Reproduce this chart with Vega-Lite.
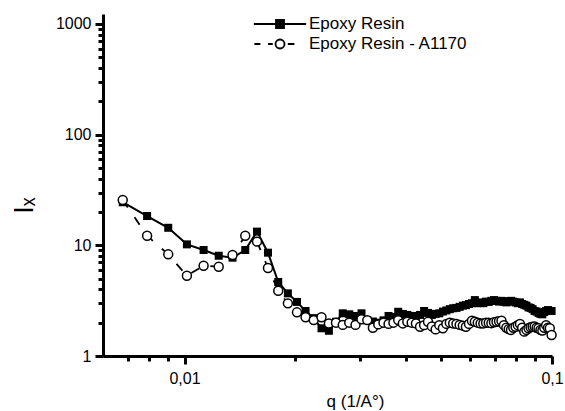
{
  "$schema": "https://vega.github.io/schema/vega-lite/v6.json",
  "width": 449,
  "height": 342,
  "autosize": "none",
  "padding": {"left": 103, "top": 14, "right": 13, "bottom": 55},
  "background": "white",
  "config": {"view": {"stroke": null}, "font": "Liberation Sans"},
  "data": {"values": [
    {"q":0.00679,"I":24.5,"s":"Epoxy Resin"},{"q":0.00791,"I":18.4,"s":"Epoxy Resin"},{"q":0.00903,"I":14.4,"s":"Epoxy Resin"},{"q":0.01015,"I":10.2,"s":"Epoxy Resin"},{"q":0.01127,"I":9.07,"s":"Epoxy Resin"},{"q":0.01239,"I":8.05,"s":"Epoxy Resin"},{"q":0.01351,"I":7.73,"s":"Epoxy Resin"},{"q":0.01463,"I":9.07,"s":"Epoxy Resin"},{"q":0.01575,"I":13.3,"s":"Epoxy Resin"},{"q":0.01687,"I":8.58,"s":"Epoxy Resin"},
    {"q":0.01799,"I":4.66,"s":"Epoxy Resin"},{"q":0.01911,"I":3.68,"s":"Epoxy Resin"},{"q":0.02023,"I":3.08,"s":"Epoxy Resin"},{"q":0.02135,"I":2.55,"s":"Epoxy Resin"},{"q":0.02247,"I":2.2,"s":"Epoxy Resin"},{"q":0.02359,"I":1.78,"s":"Epoxy Resin"},{"q":0.02471,"I":1.69,"s":"Epoxy Resin"},{"q":0.02583,"I":2.04,"s":"Epoxy Resin"},{"q":0.02695,"I":2.43,"s":"Epoxy Resin"},{"q":0.02807,"I":2.38,"s":"Epoxy Resin"},
    {"q":0.02919,"I":2.3,"s":"Epoxy Resin"},{"q":0.03031,"I":2.43,"s":"Epoxy Resin"},{"q":0.03143,"I":2.1,"s":"Epoxy Resin"},{"q":0.03255,"I":2.05,"s":"Epoxy Resin"},{"q":0.03367,"I":2.0,"s":"Epoxy Resin"},{"q":0.03479,"I":2.1,"s":"Epoxy Resin"},{"q":0.03591,"I":2.3,"s":"Epoxy Resin"},{"q":0.03703,"I":2.25,"s":"Epoxy Resin"},{"q":0.03815,"I":2.51,"s":"Epoxy Resin"},{"q":0.03927,"I":2.4,"s":"Epoxy Resin"},
    {"q":0.04039,"I":2.35,"s":"Epoxy Resin"},{"q":0.04151,"I":2.3,"s":"Epoxy Resin"},{"q":0.04263,"I":2.3,"s":"Epoxy Resin"},{"q":0.04375,"I":2.35,"s":"Epoxy Resin"},{"q":0.04487,"I":2.55,"s":"Epoxy Resin"},{"q":0.04599,"I":2.45,"s":"Epoxy Resin"},{"q":0.04711,"I":2.35,"s":"Epoxy Resin"},{"q":0.04823,"I":2.4,"s":"Epoxy Resin"},{"q":0.04935,"I":2.43,"s":"Epoxy Resin"},{"q":0.05047,"I":2.52,"s":"Epoxy Resin"},
    {"q":0.05159,"I":2.58,"s":"Epoxy Resin"},{"q":0.05271,"I":2.65,"s":"Epoxy Resin"},{"q":0.05383,"I":2.7,"s":"Epoxy Resin"},{"q":0.05495,"I":2.72,"s":"Epoxy Resin"},{"q":0.05607,"I":2.78,"s":"Epoxy Resin"},{"q":0.05719,"I":2.85,"s":"Epoxy Resin"},{"q":0.05831,"I":2.88,"s":"Epoxy Resin"},{"q":0.05943,"I":2.95,"s":"Epoxy Resin"},{"q":0.06055,"I":3.0,"s":"Epoxy Resin"},{"q":0.06167,"I":3.2,"s":"Epoxy Resin"},
    {"q":0.06279,"I":3.0,"s":"Epoxy Resin"},{"q":0.06391,"I":3.05,"s":"Epoxy Resin"},{"q":0.06503,"I":3.0,"s":"Epoxy Resin"},{"q":0.06615,"I":3.1,"s":"Epoxy Resin"},{"q":0.06727,"I":3.08,"s":"Epoxy Resin"},{"q":0.06839,"I":3.15,"s":"Epoxy Resin"},{"q":0.06951,"I":3.2,"s":"Epoxy Resin"},{"q":0.07063,"I":3.15,"s":"Epoxy Resin"},{"q":0.07175,"I":3.1,"s":"Epoxy Resin"},{"q":0.07287,"I":3.15,"s":"Epoxy Resin"},
    {"q":0.07399,"I":3.1,"s":"Epoxy Resin"},{"q":0.07511,"I":3.05,"s":"Epoxy Resin"},{"q":0.07623,"I":3.12,"s":"Epoxy Resin"},{"q":0.07735,"I":3.15,"s":"Epoxy Resin"},{"q":0.07847,"I":3.1,"s":"Epoxy Resin"},{"q":0.07959,"I":3.05,"s":"Epoxy Resin"},{"q":0.08071,"I":3.0,"s":"Epoxy Resin"},{"q":0.08183,"I":3.05,"s":"Epoxy Resin"},{"q":0.08295,"I":2.95,"s":"Epoxy Resin"},{"q":0.08407,"I":2.9,"s":"Epoxy Resin"},
    {"q":0.08519,"I":2.85,"s":"Epoxy Resin"},{"q":0.08631,"I":2.75,"s":"Epoxy Resin"},{"q":0.08743,"I":2.72,"s":"Epoxy Resin"},{"q":0.08855,"I":2.65,"s":"Epoxy Resin"},{"q":0.08967,"I":2.55,"s":"Epoxy Resin"},{"q":0.09079,"I":2.52,"s":"Epoxy Resin"},{"q":0.09191,"I":2.45,"s":"Epoxy Resin"},{"q":0.09303,"I":2.4,"s":"Epoxy Resin"},{"q":0.09415,"I":2.38,"s":"Epoxy Resin"},{"q":0.09527,"I":2.5,"s":"Epoxy Resin"},
    {"q":0.09639,"I":2.55,"s":"Epoxy Resin"},{"q":0.09751,"I":2.6,"s":"Epoxy Resin"},{"q":0.09863,"I":2.55,"s":"Epoxy Resin"},{"q":0.09975,"I":2.55,"s":"Epoxy Resin"},
    {"q":0.00679,"I":25.7,"s":"Epoxy Resin - A1170"},{"q":0.00791,"I":12.2,"s":"Epoxy Resin - A1170"},{"q":0.00903,"I":8.29,"s":"Epoxy Resin - A1170"},{"q":0.01015,"I":5.31,"s":"Epoxy Resin - A1170"},{"q":0.01127,"I":6.54,"s":"Epoxy Resin - A1170"},{"q":0.01239,"I":6.41,"s":"Epoxy Resin - A1170"},{"q":0.01351,"I":8.17,"s":"Epoxy Resin - A1170"},{"q":0.01463,"I":12.2,"s":"Epoxy Resin - A1170"},{"q":0.01575,"I":10.8,"s":"Epoxy Resin - A1170"},{"q":0.01687,"I":6.24,"s":"Epoxy Resin - A1170"},
    {"q":0.01799,"I":3.89,"s":"Epoxy Resin - A1170"},{"q":0.01911,"I":2.99,"s":"Epoxy Resin - A1170"},{"q":0.02023,"I":2.48,"s":"Epoxy Resin - A1170"},{"q":0.02135,"I":2.24,"s":"Epoxy Resin - A1170"},{"q":0.02247,"I":2.11,"s":"Epoxy Resin - A1170"},{"q":0.02359,"I":2.24,"s":"Epoxy Resin - A1170"},{"q":0.02471,"I":1.97,"s":"Epoxy Resin - A1170"},{"q":0.02583,"I":2.0,"s":"Epoxy Resin - A1170"},{"q":0.02695,"I":1.91,"s":"Epoxy Resin - A1170"},{"q":0.02807,"I":2.0,"s":"Epoxy Resin - A1170"},
    {"q":0.02919,"I":1.91,"s":"Epoxy Resin - A1170"},{"q":0.03031,"I":2.15,"s":"Epoxy Resin - A1170"},{"q":0.03143,"I":2.11,"s":"Epoxy Resin - A1170"},{"q":0.03255,"I":1.8,"s":"Epoxy Resin - A1170"},{"q":0.03367,"I":1.93,"s":"Epoxy Resin - A1170"},{"q":0.03479,"I":2.0,"s":"Epoxy Resin - A1170"},{"q":0.03591,"I":1.95,"s":"Epoxy Resin - A1170"},{"q":0.03703,"I":2.0,"s":"Epoxy Resin - A1170"},{"q":0.03815,"I":2.11,"s":"Epoxy Resin - A1170"},{"q":0.03927,"I":1.97,"s":"Epoxy Resin - A1170"},
    {"q":0.04039,"I":2.04,"s":"Epoxy Resin - A1170"},{"q":0.04151,"I":2.0,"s":"Epoxy Resin - A1170"},{"q":0.04263,"I":1.97,"s":"Epoxy Resin - A1170"},{"q":0.04375,"I":1.84,"s":"Epoxy Resin - A1170"},{"q":0.04487,"I":1.9,"s":"Epoxy Resin - A1170"},{"q":0.04599,"I":2.04,"s":"Epoxy Resin - A1170"},{"q":0.04711,"I":1.85,"s":"Epoxy Resin - A1170"},{"q":0.04823,"I":1.74,"s":"Epoxy Resin - A1170"},{"q":0.04935,"I":1.9,"s":"Epoxy Resin - A1170"},{"q":0.05047,"I":1.78,"s":"Epoxy Resin - A1170"},
    {"q":0.05159,"I":1.95,"s":"Epoxy Resin - A1170"},{"q":0.05271,"I":2.0,"s":"Epoxy Resin - A1170"},{"q":0.05383,"I":1.97,"s":"Epoxy Resin - A1170"},{"q":0.05495,"I":1.95,"s":"Epoxy Resin - A1170"},{"q":0.05607,"I":1.91,"s":"Epoxy Resin - A1170"},{"q":0.05719,"I":1.88,"s":"Epoxy Resin - A1170"},{"q":0.05831,"I":1.84,"s":"Epoxy Resin - A1170"},{"q":0.05943,"I":1.95,"s":"Epoxy Resin - A1170"},{"q":0.06055,"I":2.08,"s":"Epoxy Resin - A1170"},{"q":0.06167,"I":2.04,"s":"Epoxy Resin - A1170"},
    {"q":0.06279,"I":2.0,"s":"Epoxy Resin - A1170"},{"q":0.06391,"I":1.97,"s":"Epoxy Resin - A1170"},{"q":0.06503,"I":1.97,"s":"Epoxy Resin - A1170"},{"q":0.06615,"I":2.0,"s":"Epoxy Resin - A1170"},{"q":0.06727,"I":2.0,"s":"Epoxy Resin - A1170"},{"q":0.06839,"I":1.98,"s":"Epoxy Resin - A1170"},{"q":0.06951,"I":2.02,"s":"Epoxy Resin - A1170"},{"q":0.07063,"I":2.04,"s":"Epoxy Resin - A1170"},{"q":0.07175,"I":2.06,"s":"Epoxy Resin - A1170"},{"q":0.07287,"I":2.08,"s":"Epoxy Resin - A1170"},
    {"q":0.07399,"I":1.9,"s":"Epoxy Resin - A1170"},{"q":0.07511,"I":1.8,"s":"Epoxy Resin - A1170"},{"q":0.07623,"I":1.75,"s":"Epoxy Resin - A1170"},{"q":0.07735,"I":1.72,"s":"Epoxy Resin - A1170"},{"q":0.07847,"I":1.8,"s":"Epoxy Resin - A1170"},{"q":0.07959,"I":1.84,"s":"Epoxy Resin - A1170"},{"q":0.08071,"I":1.9,"s":"Epoxy Resin - A1170"},{"q":0.08183,"I":1.95,"s":"Epoxy Resin - A1170"},{"q":0.08295,"I":1.8,"s":"Epoxy Resin - A1170"},{"q":0.08407,"I":1.66,"s":"Epoxy Resin - A1170"},
    {"q":0.08519,"I":1.72,"s":"Epoxy Resin - A1170"},{"q":0.08631,"I":1.78,"s":"Epoxy Resin - A1170"},{"q":0.08743,"I":1.82,"s":"Epoxy Resin - A1170"},{"q":0.08855,"I":1.84,"s":"Epoxy Resin - A1170"},{"q":0.08967,"I":1.85,"s":"Epoxy Resin - A1170"},{"q":0.09079,"I":1.8,"s":"Epoxy Resin - A1170"},{"q":0.09191,"I":1.78,"s":"Epoxy Resin - A1170"},{"q":0.09303,"I":1.72,"s":"Epoxy Resin - A1170"},{"q":0.09415,"I":1.7,"s":"Epoxy Resin - A1170"},{"q":0.09527,"I":1.8,"s":"Epoxy Resin - A1170"},
    {"q":0.09639,"I":1.9,"s":"Epoxy Resin - A1170"},{"q":0.09751,"I":1.8,"s":"Epoxy Resin - A1170"},{"q":0.09863,"I":1.78,"s":"Epoxy Resin - A1170"},{"q":0.09975,"I":1.55,"s":"Epoxy Resin - A1170"}
  ]},
  "encoding": {
    "x": {"field": "q", "type": "quantitative",
      "scale": {"type": "log", "domain": [0.006, 0.1], "nice": false},
      "axis": {"title": "q (1/A°)", "values": [0.007,0.008,0.009,0.01,0.02,0.03,0.04,0.05,0.06,0.07,0.08,0.09,0.1],
        "labelExpr": "datum.value == 0.01 ? '0,01' : (datum.value == 0.1 ? '0,1' : '')",
        "labelFlush": false, "labelOverlap": false, "grid": false,
        "domainColor": "black", "domainWidth": 3, "tickColor": "black", "tickWidth": 3,
        "tickSize": {"condition": {"test": "datum.value == 0.01 || datum.value == 0.1", "value": 8}, "value": 5},
        "labelFont": "Liberation Sans", "labelFontSize": 16, "labelColor": "black", "labelPadding": 6,
        "titleFont": "Liberation Sans", "titleFontSize": 17, "titleFontWeight": "normal", "titleColor": "black",
        "titleX": 252, "titleY": 50, "titleBaseline": "alphabetic", "titleAlign": "center"}},
    "y": {"field": "I", "type": "quantitative",
      "scale": {"type": "log", "domain": [1, 1230], "nice": false},
      "axis": {"title": "Iₓ", "values": [1,2,3,4,5,6,7,8,9,10,20,30,40,50,60,70,80,90,100,200,300,400,500,600,700,800,900,1000],
        "labelExpr": "indexof([1,10,100,1000], datum.value) >= 0 ? toString(datum.value) : ''",
        "labelFlush": false, "labelOverlap": false, "grid": false,
        "domainColor": "black", "domainWidth": 3, "tickColor": "black", "tickWidth": 3,
        "tickSize": {"condition": {"test": "indexof([1,10,100,1000], datum.value) >= 0", "value": 8}, "value": 5},
        "labelFont": "Liberation Sans", "labelFontSize": 16, "labelColor": "black", "labelPadding": 4,
        "titleFont": "Liberation Sans", "titleFontSize": 27, "titleFontWeight": "normal", "titleColor": "black",
        "titleAngle": 270, "titleX": -71, "titleY": 191, "titleBaseline": "alphabetic", "titleAlign": "center"}}
  },
  "layer": [
    {"transform": [{"filter": "datum.s == 'Epoxy Resin'"}],
     "mark": {"type": "line", "color": "black", "strokeWidth": 2}},
    {"transform": [{"filter": "datum.s == 'Epoxy Resin - A1170'"}],
     "mark": {"type": "line", "color": "black", "strokeWidth": 1.8, "strokeDash": [9, 12]}},
    {"transform": [{"filter": "datum.s == 'Epoxy Resin'"}],
     "mark": {"type": "point", "shape": "square", "filled": true, "color": "black", "size": 64, "opacity": 1}},
    {"transform": [{"filter": "datum.s == 'Epoxy Resin - A1170'"}],
     "mark": {"type": "point", "shape": "circle", "filled": true, "fill": "white", "stroke": "black", "strokeWidth": 1.5, "size": 80, "opacity": 1}},
    {"mark": {"type": "point", "filled": true, "strokeWidth": 1.8, "opacity": 0},
     "encoding": {
       "shape": {"field": "s", "type": "nominal",
         "scale": {"domain": ["Epoxy Resin", "Epoxy Resin - A1170"],
           "range": ["M-3.27,0H3.27M-0.5,-0.5H0.5V0.5H-0.5Z", "M-3.2,0H-2.45M-1.49,0H-0.9M0.975,0H1.8M0.5625,0A0.5625,0.5625 0 1,1 -0.5625,0A0.5625,0.5625 0 1,1 0.5625,0Z"]},
         "legend": {"title": null, "orient": "none", "legendX": 168, "legendY": 1, "padding": 0,
           "symbolSize": 256, "symbolOpacity": 1, "symbolStrokeWidth": 1.8,
           "labelOffset": 20, "rowPadding": 3,
           "labelFont": "Liberation Sans", "labelFontSize": 17, "labelColor": "black"}},
       "fill": {"field": "s", "type": "nominal",
         "scale": {"domain": ["Epoxy Resin", "Epoxy Resin - A1170"], "range": ["black", "white"]}},
       "stroke": {"field": "s", "type": "nominal",
         "scale": {"domain": ["Epoxy Resin", "Epoxy Resin - A1170"], "range": ["black", "black"]}}
     }}
  ]
}
